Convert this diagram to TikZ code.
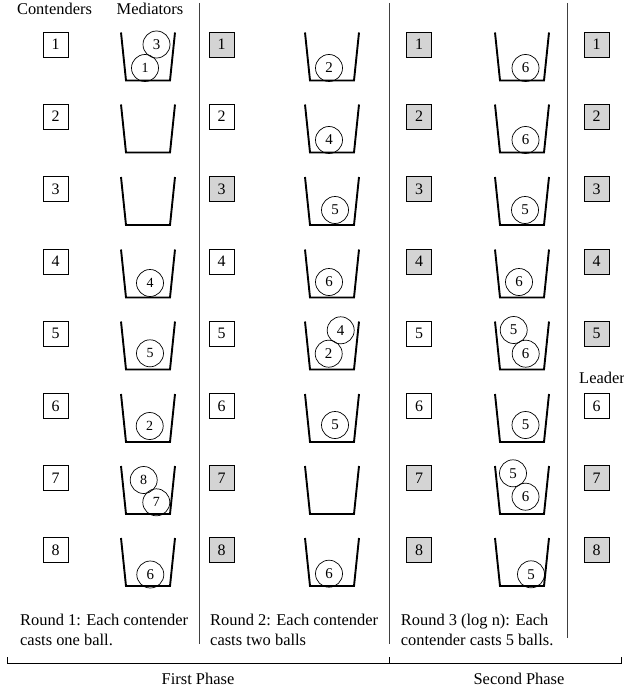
\documentclass[tikz,border=0pt]{standalone}
\usepackage{fontspec}
\setmainfont{Liberation Serif}
\definecolor{boxgray}{RGB}{212,212,212}
\tikzset{
  cbox/.style={draw, line width=0.7bp, minimum size=25bp, inner sep=0pt, font=\fontsize{16}{18}\selectfont},
  gbox/.style={cbox, fill=boxgray},
  ball/.style={circle, draw, line width=0.7bp, minimum size=27bp, inner sep=0pt, font=\fontsize{15}{17}\selectfont},
  sball/.style={ball, font=\fontsize{14}{16}\selectfont},
  bucketline/.style={line width=1.9bp, line join=miter},
  divider/.style={line width=0.9bp, black!75},
  lbl/.style={inner sep=0pt, font=\fontsize{16.5}{20}\selectfont},
  bucketpic/.pic={\draw[bucketline] (-27,-12) -- (-22,36) -- (22,36) -- (27,-12);}
}
\begin{document}
\begin{tikzpicture}[x=1bp,y=-1bp]
\useasboundingbox (0,0) rectangle (624,688);

% headers
\node[lbl, anchor=base] (hc) at (54.5,15) {Contenders};
\node[lbl, anchor=base] (hm) at (150,15) {Mediators};

% column 1 boxes and all buckets
\foreach \r/\y in {1/44.5,2/116.5,3/189,4/261.5,5/333.5,6/406,7/478,8/550} {
  \node[cbox] (a\r) at (55.5,\y) {\r};
  \pic at (148,\y) {bucketpic};
  \pic at (332,\y) {bucketpic};
  \pic at (522,\y) {bucketpic};
}
% column 2
\foreach \r/\y/\s in {1/44.5/gbox,2/116.5/cbox,3/189/gbox,4/261.5/cbox,5/333.5/cbox,6/406/cbox,7/478/gbox,8/550/gbox} {
  \node[\s] (b\r) at (221.5,\y) {\r};
}
% column 3
\foreach \r/\y/\s in {1/44.5/gbox,2/116.5/gbox,3/189/gbox,4/261.5/gbox,5/333.5/cbox,6/406/cbox,7/478/gbox,8/550/gbox} {
  \node[\s] (c\r) at (419,\y) {\r};
}
% column 4
\foreach \r/\y/\s in {1/44.5/gbox,2/116.5/gbox,3/189/gbox,4/261.5/gbox,5/333.5/gbox,6/406/cbox,7/478/gbox,8/550/gbox} {
  \node[\s] (d\r) at (596.5,\y) {\r};
}
\node[lbl, anchor=base west] (leader) at (579,383) {Leader};

% balls column 1
\node[ball]  (p1a) at (156.5,44.5) {3};
\node[sball] (p1b) at (145,68) {1};
\node[sball] (p4)  at (150,283) {4};
\node[sball] (p5)  at (150,353.3) {5};
\node[sball] (p6)  at (149.7,426) {2};
\node[sball] (p7a) at (143.7,480) {8};
\node[sball] (p7b) at (156.3,502.3) {7};
\node[ball]  (p8)  at (150.3,574.5) {6};

% balls column 2
\node[ball] (q1)  at (329,68) {2};
\node[ball] (q2)  at (329,140) {4};
\node[ball] (q3)  at (335,210) {5};
\node[ball] (q4)  at (329,282) {6};
\node[ball] (q5a) at (340.7,330.3) {4};
\node[ball] (q5b) at (328.7,353.7) {2};
\node[ball] (q6)  at (335,425) {5};
\node[ball] (q8)  at (329,573.7) {6};

% balls column 3
\node[ball] (s1)  at (525.5,68) {6};
\node[ball] (s2)  at (525.5,140) {6};
\node[ball] (s3)  at (525,210) {5};
\node[ball] (s4)  at (519,282) {6};
\node[ball] (s5a) at (513.7,330) {5};
\node[ball] (s5b) at (525.7,353.7) {6};
\node[ball] (s6)  at (525.5,425) {5};
\node[ball] (s7a) at (513,473.3) {5};
\node[ball] (s7b) at (525.5,496.7) {6};
\node[ball] (s8)  at (531,574.3) {5};

% dividers
\coordinate (v1t) at (199,3);  \coordinate (v1b) at (199,644);
\coordinate (v2t) at (389,3);  \coordinate (v2b) at (389,644);
\coordinate (v3t) at (567,3);  \coordinate (v3b) at (567,638);
\draw[divider] (v1t) -- (v1b);
\draw[divider] (v2t) -- (v2b);
\draw[divider] (v3t) -- (v3b);

% captions
\node[lbl, anchor=base west] (r1a) at (20,625) {Round 1: Each contender};
\node[lbl, anchor=base west] (r1b) at (20,645) {casts one ball.};
\node[lbl, anchor=base west] (r2a) at (210,625) {Round 2: Each contender};
\node[lbl, anchor=base west] (r2b) at (210,645) {casts two balls};
\node[lbl, anchor=base west] (r3a) at (400.7,625) {Round 3 (log n): Each};
\node[lbl, anchor=base west] (r3b) at (400.7,645) {contender casts 5 balls.};

% bracket
\coordinate (bl) at (7,657); \coordinate (blb) at (7,663);
\coordinate (br) at (621,657); \coordinate (brb) at (621,663);
\coordinate (bm) at (389,657); \coordinate (bmb) at (389,663);
\draw[line width=0.8bp] (bl) -- (blb) -- (brb) -- (br);
\draw[line width=0.8bp] (bmb) -- (bm);
\node[lbl, anchor=base] (ph1) at (198,684) {First Phase};
\node[lbl, anchor=base] (ph2) at (519,684) {Second Phase};
\end{tikzpicture}
\end{document}
